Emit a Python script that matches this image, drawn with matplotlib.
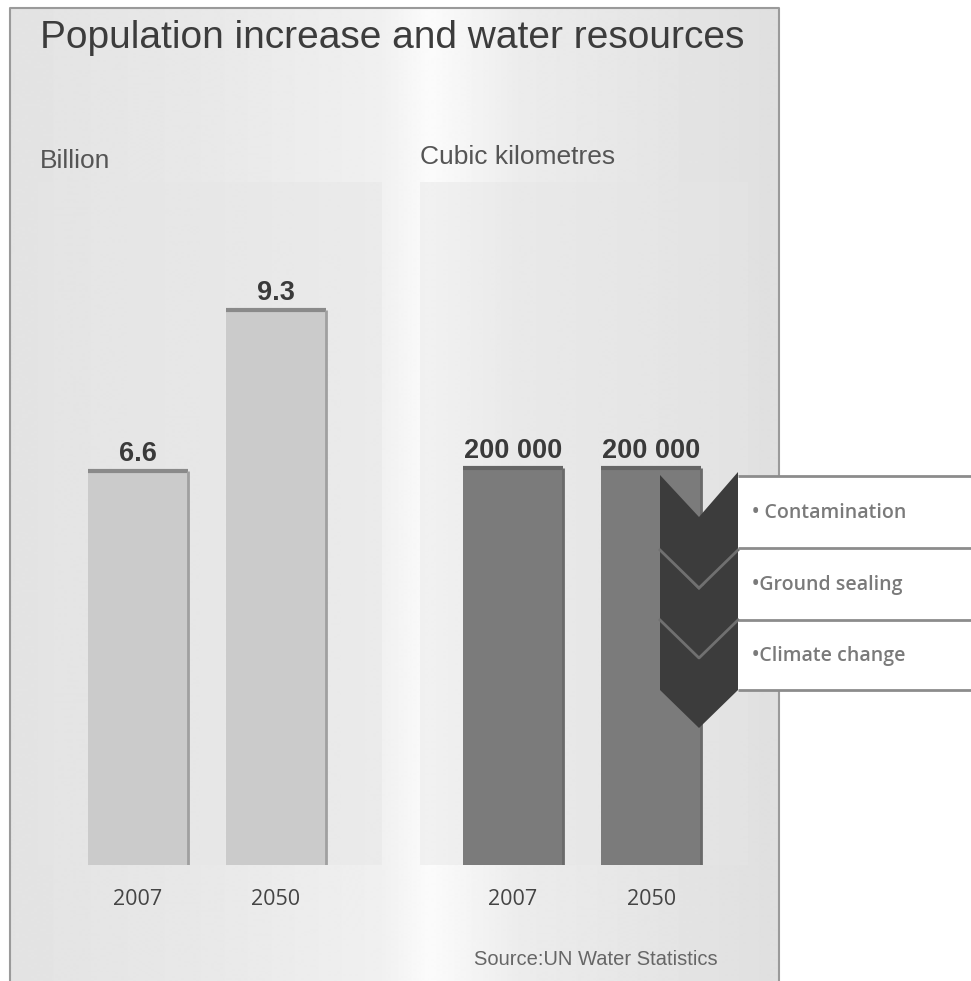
import numpy as np
import matplotlib.pyplot as plt
from matplotlib.patches import Polygon, Rectangle

# 数据
years = ['2007', '2050']
population = [6.6, 9.3]           # 十亿
water = [200000, 200000]          # 立方千米
pop_labels = ['6.6', '9.3']
water_labels = ['200 000', '200 000']
factors = ['• Contamination', '•Ground sealing', '•Climate change']

W, H = 971, 981
fig = plt.figure(figsize=(W / 100, H / 100), dpi=100)

# 背景层（像素坐标）
bg = fig.add_axes([0, 0, 1, 1], zorder=0)
bg.set_xlim(0, W)
bg.set_ylim(H, 0)
bg.axis('off')

xs = np.arange(10, 781)
shade = np.interp(xs, [10, 200, 380, 430, 520, 780], [0.89, 0.91, 0.94, 0.985, 0.925, 0.875])
grad = np.tile(shade, (2, 1))
bg.imshow(grad, cmap='gray', vmin=0, vmax=1, extent=(10, 780, H, 8), aspect='auto', interpolation='bilinear')
bg.plot([10, 10, 779, 779], [H, 8, 8, H], color='#9a9a9a', lw=1.5)

fnt = 'Liberation Sans'
bg.text(40, 48, 'Population increase and water resources', fontsize=28, family=fnt,
        color='#3c3c3c', va='baseline', ha='left')
bg.text(40, 168, 'Billion', fontsize=19, family=fnt, color='#555555', va='baseline')
bg.text(420, 164, 'Cubic kilometres', fontsize=19, family=fnt, color='#555555', va='baseline')
bg.text(718, 965, 'Source:UN Water Statistics', fontsize=14.5, family=fnt, color='#666666',
        va='baseline', ha='right')


def bar_panel(rect, xlim, ylim, values, labels, face, top, side):
    ax = fig.add_axes(rect, zorder=1)
    ax.set_facecolor((0.90, 0.90, 0.90, 0.45))
    x = np.arange(len(values))
    w = 0.725
    ax.bar(x, values, width=w, color=face, zorder=2)
    ax.hlines(values, x - w / 2, x + w / 2, color=top, lw=3, zorder=3)
    ax.vlines(x + w / 2, 0, values, color=side, lw=2, zorder=3)
    for xi, v, lab in zip(x, values, labels):
        ax.annotate(lab, (xi, v), xytext=(0, 7), textcoords='offset points', ha='center',
                    va='baseline', fontsize=19.5, fontweight='bold', family='Liberation Sans',
                    color='#3a3a3a')
    ax.set_xlim(*xlim)
    ax.set_ylim(*ylim)
    ax.set_xticks(x)
    ax.set_xticklabels(years, fontsize=15.5, family='Open Sans', color='#444444')
    ax.tick_params(axis='x', length=0, pad=17.5)
    ax.set_yticks([])
    for s in ax.spines.values():
        s.set_visible(False)
    return ax


ax1 = bar_panel([38 / W, 116 / H, 344 / W, 683 / H], (-0.725, 1.77), (0, 11.44),
                population, pop_labels, '#cbcbcb', '#8a8a8a', '#a0a0a0')
ax2 = bar_panel([420 / W, 116 / H, 328 / W, 683 / H], (-0.674, 1.70), (0, 344000),
                water, water_labels, '#7b7b7b', '#666666', '#6a6a6a')

# 箭头与说明框
ov = fig.add_axes([0, 0, 1, 1], zorder=3)
ov.set_xlim(0, W)
ov.set_ylim(H, 0)
ov.axis('off')

xl, xc, xr = 660, 699, 738
tops = [475, 550, 620]
bottoms = [550, 620, 690]
depth = [42, 40, 38]
for t, b, d in zip(tops, bottoms, depth):
    ov.add_patch(Polygon([(xl, t), (xc, t + d), (xr, t - 3), (xr, b), (xc, b + 38), (xl, b)],
                         closed=True, facecolor='#3c3c3c', edgecolor='none'))
for b in bottoms[:-1]:
    ov.plot([xl, xc, xr], [b, b + 38, b], color='#707070', lw=2)

box_lines = [476, 548, 620, 690]
ov.add_patch(Rectangle((xr, box_lines[0]), W - xr, box_lines[-1] - box_lines[0],
                       facecolor='white', edgecolor='none'))
ov.hlines(box_lines, xr, W, color='#8c8c8c', lw=2)
for i, lab in enumerate(factors):
    yc = (box_lines[i] + box_lines[i + 1]) / 2
    ov.text(752, yc + 1, lab, fontsize=14, family='Open Sans', color='#7a7a7a',
            fontweight='semibold', va='center', ha='left')

fig.savefig('out.png', dpi=100)
